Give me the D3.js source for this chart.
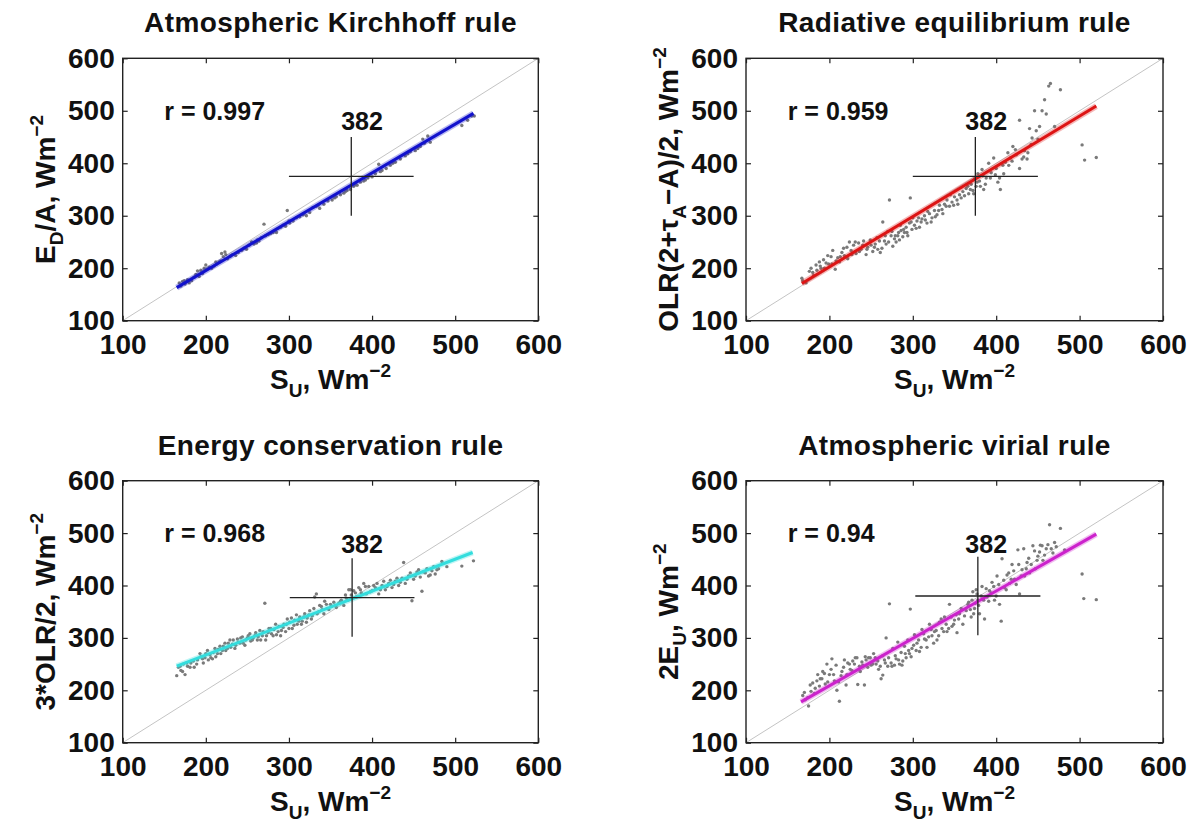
<!DOCTYPE html>
<html>
<head>
<meta charset="utf-8">
<style>
  body { margin: 0; background: #fff; }
  text { font-family: "Liberation Sans", Arial, sans-serif; font-weight: bold; fill: #111; }
</style>
</head>
<body>
<script src="https://cdn.jsdelivr.net/npm/d3@7"></script>
<script>
// ---- data ----
var titles = ["Atmospheric Kirchhoff rule", "Radiative equilibrium rule",
              "Energy conservation rule", "Atmospheric virial rule"];
var rTexts = ["r = 0.997", "r = 0.959", "r = 0.968", "r = 0.94"];
var meanText = "382";
var axisTicks = [100, 200, 300, 400, 500, 600];
var fitColors = ["#1212cc", "#dd1414", "#33dddd", "#cc22cc"];

// crosshair centre (x, y) per panel, arms are +-75
var crossCenters = [[375, 375], [375, 375], [376, 377], [378, 380]];

// fitted lines, start and end
var fitKirchhoff = [[165, 163], [522, 495]];
var fitRadiative = [[167, 171], [520, 509]];
var fitEnergy = [[165, 246], [521, 463]];
var fitVirial = [[166, 178], [520, 498]];

var ptsKirchhoff = [[168,172],[170,166],[172,175],[175,170],[178,178],[180,172],[183,176],[186,183],[190,195],[192,184],
  [196,190],[200,206],[201,198],[204,202],[207,200],[210,204],[213,208],[216,212],[219,228],[221,222],[223,231],[226,218],
  [229,222],[232,226],[236,224],[239,230],[243,234],[246,238],[249,236],[252,244],[255,250],[258,246],[261,248],[264,252],
  [267,258],[270,284],[272,262],[275,264],[278,266],[281,268],[284,272],[287,276],[290,278],[293,282],[296,280],[298,310],
  [301,286],[305,290],[309,296],[313,298],[317,302],[321,300],[325,306],[329,316],[333,318],[337,314],[342,322],[347,328],
  [352,330],[357,336],[362,340],[366,343],[370,348],[374,350],[378,356],[382,358],[386,364],[390,366],[395,372],[400,374],
  [404,380],[408,398],[412,386],[417,390],[422,396],[428,402],[434,408],[440,414],[446,422],[452,424],[458,432],[463,438],
  [467,452],[470,440],[508,472],[515,482],[520,490],[523,490],
  [174,176],[188,188],[194,196],[198,200],[212,212],[218,214],[224,226],[230,224],[244,236],[262,254],[285,268],[300,290],
  [318,304],[335,320],[355,334],[368,346],[380,360],[392,368],[410,384],[425,400],[443,418],[455,428],[461,446]];

var ptsRadiative = [[167,181],[168,176],[172,172],[176,194],[178,200],[180,192],[184,206],[188,212],[190,200],[193,216],
  [196,210],[199,208],[202,222],[204,234],[207,198],[210,220],[212,212],[215,230],[218,224],[221,240],[224,250],[226,234],
  [229,244],[232,228],[235,248],[238,236],[241,252],[244,226],[246,240],[249,254],[252,232],[255,246],[258,236],[261,230],
  [264,288],[266,252],[268,246],[270,270],[272,330],[274,262],[276,242],[278,256],[280,250],[282,262],[284,254],[286,272],
  [288,260],[290,268],[292,278],[294,262],[296,286],[297,334],[299,274],[302,282],[305,290],[308,278],[311,294],[314,300],
  [317,286],[320,304],[323,296],[326,310],[329,302],[332,320],[335,312],[338,322],[341,330],[344,318],[347,326],[350,336],
  [353,330],[356,340],[360,346],[364,352],[367,342],[370,360],[372,348],[374,370],[376,356],[378,380],[380,366],[383,388],
  [385,350],[388,372],[391,400],[394,382],[397,410],[400,390],[402,364],[405,350],[408,396],[411,402],[414,420],[417,410],
  [420,432],[424,416],[428,390],[431,408],[434,424],[437,408],[440,466],[443,448],[446,500],[448,462],[452,470],[455,500],
  [458,521],[460,494],[463,547],[465,552],[470,470],[477,540],[428,482],[503,435],[506,406],[520,411],
  [181,186],[185,196],[189,204],[194,200],[198,224],[203,208],[208,214],[213,222],[217,238],[222,218],[227,226],[231,250],
  [236,232],[240,244],[245,236],[250,244],[254,240],[257,258],[260,252],[263,238],[267,262],[271,250],[275,270],[279,262],
  [283,268],[285,282],[289,274],[293,268],[298,288],[300,296],[304,276],[307,296],[310,288],[315,292],[318,308],[322,288],
  [327,298],[331,310],[336,304],[340,318],[345,340],[349,320],[354,322],[358,334],[362,338],[366,356],[369,350],[373,342],
  [377,364],[381,356],[384,376],[387,360],[393,372],[399,378],[404,372],[409,380],[415,396],[419,404],[423,426],[433,412],
  [438,420],[442,436],[450,446]];

var ptsEnergy = [[165,228],[167,244],[170,238],[173,250],[175,230],[178,246],[182,252],[186,244],[190,258],[194,264],
  [197,252],[200,270],[203,258],[206,262],[209,272],[212,264],[215,278],[218,270],[221,284],[224,276],[227,290],[230,282],
  [233,296],[236,286],[239,292],[242,300],[245,290],[248,296],[251,304],[254,294],[257,300],[260,310],[263,302],[266,296],
  [269,312],[271,366],[273,304],[276,318],[279,308],[282,316],[285,306],[288,322],[291,314],[294,326],[296,312],[298,336],
  [301,330],[304,318],[307,334],[310,326],[313,340],[316,332],[319,346],[322,338],[325,352],[328,342],[331,378],[333,384],
  [336,350],[339,360],[342,346],[345,364],[348,354],[351,360],[354,368],[357,358],[360,366],[363,372],[366,362],[369,376],
  [372,392],[375,382],[378,390],[381,378],[384,396],[387,386],[390,404],[393,384],[396,398],[400,390],[404,396],[408,384],
  [412,400],[416,392],[420,404],[424,396],[428,408],[432,400],[436,414],[438,444],[440,404],[444,418],[448,371],[450,412],
  [454,426],[458,416],[460,389],[464,424],[468,418],[472,428],[476,422],[480,432],[484,446],[490,436],[508,437],[522,447],
  [169,246],[172,236],[177,252],[181,244],[185,256],[189,250],[193,270],[196,260],[199,262],[202,276],[205,268],[208,260],
  [211,280],[214,270],[217,284],[220,276],[223,290],[226,280],[229,296],[232,288],[235,280],[238,298],[241,290],[244,302],
  [247,286],[250,300],[253,308],[256,296],[259,304],[262,296],[265,314],[268,304],[272,296],[275,310],[278,318],[281,304],
  [284,326],[287,312],[290,304],[293,320],[297,326],[300,318],[303,338],[306,324],[309,344],[312,332],[315,326],[318,340],
  [321,330],[324,344],[327,336],[330,356],[334,346],[337,362],[340,354],[343,370],[346,356],[350,364],[356,362],[362,370],
  [368,382],[371,372],[374,392],[377,376],[380,386],[386,392],[392,398],[398,388],[402,400],[406,404],[410,392],[414,408],
  [418,398],[422,410],[426,402],[430,414],[434,406],[442,412],[446,424],[452,418],[456,430],[462,426],[466,432],[470,420],
  [474,436],[478,430]];

var ptsVirial = [[168,190],[171,182],[175,170],[178,198],[180,214],[183,204],[186,230],[189,222],[192,236],[195,212],
  [197,250],[200,230],[203,260],[206,218],[209,200],[212,179],[214,228],[217,244],[220,210],[222,252],[225,240],[228,256],
  [231,262],[234,211],[236,246],[239,254],[242,210],[244,258],[247,262],[250,248],[253,270],[256,250],[259,240],[262,222],
  [264,229],[266,258],[268,300],[270,246],[272,365],[274,252],[276,280],[278,248],[280,260],[282,292],[284,250],[286,272],
  [288,256],[290,284],[292,262],[294,296],[296,270],[297,355],[299,280],[302,306],[305,290],[308,274],[311,316],[314,298],
  [317,282],[320,326],[323,304],[326,312],[329,296],[332,330],[335,318],[338,340],[341,312],[344,364],[347,322],[350,334],
  [353,310],[356,346],[360,326],[364,352],[367,368],[370,340],[372,388],[374,356],[376,392],[378,372],[380,346],[383,398],
  [386,336],[389,378],[392,390],[395,406],[398,372],[401,418],[404,364],[406,332],[407,451],[410,396],[413,420],[416,404],
  [419,440],[422,412],[426,468],[428,384],[431,430],[434,418],[437,444],[440,424],[444,476],[447,432],[450,456],[453,477],
  [456,448],[460,470],[464,516],[468,462],[472,474],[477,509],[482,468],[503,422],[505,375],[520,373],
  [170,196],[174,186],[177,210],[182,194],[185,218],[188,208],[191,222],[194,232],[198,216],[202,240],[205,230],[208,248],
  [211,216],[215,236],[218,258],[221,230],[224,250],[227,238],[230,250],[233,262],[237,236],[240,248],[243,264],[246,244],
  [249,262],[252,250],[255,262],[258,256],[261,246],[264,266],[267,252],[271,262],[275,246],[279,266],[283,258],[287,248],
  [291,270],[295,276],[298,264],[301,286],[304,276],[307,296],[310,282],[313,308],[316,296],[319,302],[322,316],[325,290],
  [328,314],[331,304],[334,336],[337,312],[340,326],[343,318],[346,340],[349,326],[352,344],[355,336],[358,356],[362,342],
  [366,364],[369,354],[371,372],[373,346],[375,366],[377,384],[379,362],[382,380],[385,372],[388,394],[391,370],[394,386],
  [397,398],[400,380],[403,402],[409,410],[412,392],[415,424],[418,412],[421,428],[424,402],[427,440],[430,418],[433,470],
  [436,432],[439,452],[442,440],[446,466],[449,448],[452,464],[455,476],[458,458],[462,478],[466,470],[470,482]];

var allPoints = [ptsKirchhoff, ptsRadiative, ptsEnergy, ptsVirial];
var allFits = [fitKirchhoff, fitRadiative, fitEnergy, fitVirial];

// axis labels as [text, kind] pieces, kind: n normal, sub, sup
var yLabels = [
  [["E","n"],["D","sub"],["/A, Wm","n"],["\u22122","sup"]],
  [["OLR(2+\u03c4","n"],["A","sub"],["\u2212A)/2, Wm","n"],["\u22122","sup"]],
  [["3*OLR/2, Wm","n"],["\u22122","sup"]],
  [["2E","n"],["U","sub"],[", Wm","n"],["\u22122","sup"]]
];
var xLabel = [["S","n"],["U","sub"],[", Wm","n"],["\u22122","sup"]];

// ---- layout ----
var width = 1196, height = 827;
var lefts = [122.7, 746], rights = [538.3, 1163];
var tops = [58.3, 480.7], bottoms = [320.7, 742.7];

var svg = d3.select("body").append("svg")
  .attr("width", width).attr("height", height);

function richText(sel, parts, size) {
  var offset = 0;
  parts.forEach(function (p) {
    var target = p[1] == "sub" ? 8 : (p[1] == "sup" ? -12 : 0);
    sel.append("tspan")
      .attr("dy", target - offset)
      .style("font-size", p[1] == "n" ? size + "px" : (size * 0.68) + "px")
      .text(p[0]);
    offset = target;
  });
}

titles.forEach(function (title, i) {
  var col = i % 2, row = Math.floor(i / 2);
  var x = d3.scaleLinear().domain([100, 600]).range([lefts[col], rights[col]]);
  var y = d3.scaleLinear().domain([100, 600]).range([bottoms[row], tops[row]]);
  var g = svg.append("g");

  // 1:1 line
  g.append("line")
    .attr("x1", x(100)).attr("y1", y(100)).attr("x2", x(600)).attr("y2", y(600))
    .attr("stroke", "#c4c4c4").attr("stroke-width", 1);

  // scatter
  g.selectAll("circle").data(allPoints[i]).enter().append("circle")
    .attr("cx", function (d) { return x(d[0]); })
    .attr("cy", function (d) { return y(d[1]); })
    .attr("r", 1.7)
    .attr("fill", "#7a7a7a");

  // fit line with light halo
  var fit = allFits[i];
  g.append("line")
    .attr("x1", x(fit[0][0])).attr("y1", y(fit[0][1]))
    .attr("x2", x(fit[1][0])).attr("y2", y(fit[1][1]))
    .attr("stroke", fitColors[i]).attr("stroke-opacity", 0.3).attr("stroke-width", 6);
  g.append("line")
    .attr("x1", x(fit[0][0])).attr("y1", y(fit[0][1]))
    .attr("x2", x(fit[1][0])).attr("y2", y(fit[1][1]))
    .attr("stroke", fitColors[i]).attr("stroke-width", 3);

  // crosshair
  var c = crossCenters[i];
  g.append("line")
    .attr("x1", x(c[0] - 75)).attr("x2", x(c[0] + 75))
    .attr("y1", y(c[1])).attr("y2", y(c[1]))
    .attr("stroke", "#222").attr("stroke-width", 1.3);
  g.append("line")
    .attr("x1", x(c[0])).attr("x2", x(c[0]))
    .attr("y1", y(c[1] - 75)).attr("y2", y(c[1] + 75))
    .attr("stroke", "#222").attr("stroke-width", 1.3);

  g.append("text")
    .attr("x", x(388)).attr("y", y(480)).attr("dy", "0.36em")
    .attr("text-anchor", "middle").style("font-size", "25px")
    .text(meanText);
  g.append("text")
    .attr("x", x(150)).attr("y", y(500)).attr("dy", "0.36em")
    .style("font-size", "25px")
    .text(rTexts[i]);

  // axes with inward ticks on all sides
  var bottomAxis = g.append("g")
    .attr("transform", "translate(0," + y(100) + ")")
    .call(d3.axisBottom(x).tickValues(axisTicks).tickSize(-5).tickSizeOuter(0).tickPadding(13));
  var leftAxis = g.append("g")
    .attr("transform", "translate(" + x(100) + ",0)")
    .call(d3.axisLeft(y).tickValues(axisTicks).tickSize(-5).tickSizeOuter(0).tickPadding(8));
  g.append("g")
    .attr("transform", "translate(0," + y(600) + ")")
    .call(d3.axisTop(x).tickValues(axisTicks).tickSize(-5).tickSizeOuter(0).tickFormat(""));
  g.append("g")
    .attr("transform", "translate(" + x(600) + ",0)")
    .call(d3.axisRight(y).tickValues(axisTicks).tickSize(-5).tickSizeOuter(0).tickFormat(""));
  g.selectAll(".domain").remove();
  g.selectAll(".tick line").attr("stroke", "#222").attr("stroke-width", 1.2);
  bottomAxis.selectAll("text").style("font-size", "28px").attr("fill", "#111");
  leftAxis.selectAll("text").style("font-size", "28px").attr("fill", "#111");

  g.append("rect")
    .attr("x", x(100)).attr("y", y(600))
    .attr("width", x(600) - x(100)).attr("height", y(100) - y(600))
    .attr("fill", "none").attr("stroke", "#222").attr("stroke-width", 1.4);

  // title and labels
  g.append("text")
    .attr("x", (x(100) + x(600)) / 2).attr("y", y(600) - 26)
    .attr("text-anchor", "middle").style("font-size", "28px")
    .style("letter-spacing", "0.4px")
    .text(title);

  var yl = g.append("text")
    .attr("text-anchor", "middle")
    .attr("transform", "translate(" + (x(100) - 68) + "," + ((y(100) + y(600)) / 2) + ") rotate(-90)");
  richText(yl, yLabels[i], 28);

  var xl = g.append("text")
    .attr("text-anchor", "middle")
    .attr("x", (x(100) + x(600)) / 2).attr("y", y(100) + 68);
  richText(xl, xLabel, 28);
});
</script>
</body>
</html>
